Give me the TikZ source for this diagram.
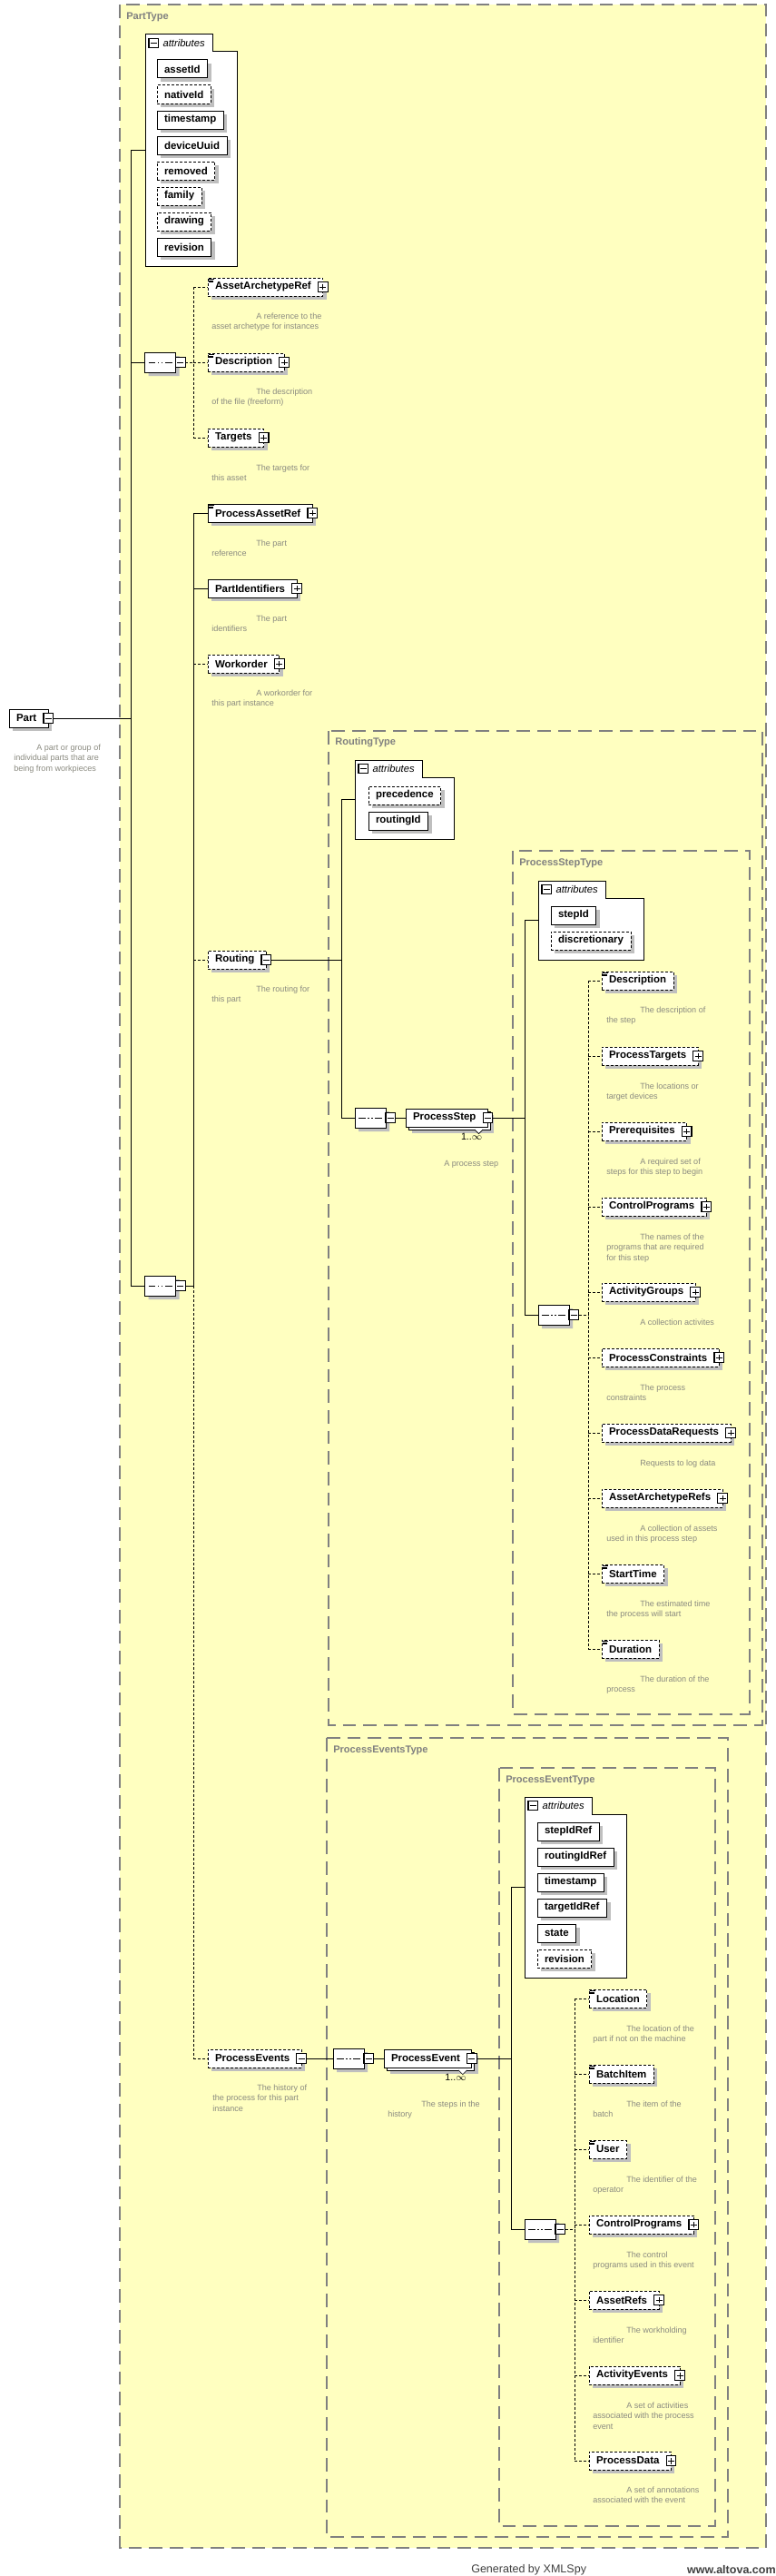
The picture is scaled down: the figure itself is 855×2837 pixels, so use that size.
\documentclass[tikz,border=0pt]{standalone}
\usepackage{fontspec}
\setmainfont{Liberation Sans}
\usetikzlibrary{shapes.misc,shadows}

\definecolor{xsyellow}{RGB}{255,255,192}
\definecolor{xsgray}{RGB}{128,128,128}
\definecolor{xsdesc}{RGB}{138,138,128}

\begin{document}
\begin{tikzpicture}[x=0.75pt,y=-0.75pt,
    link/.style={line width=0.75pt},
    optlink/.style={line width=0.75pt,dash pattern=on 2.25pt off 1.5pt},
    typebox/.style={draw=xsgray,line width=0.9pt,dash pattern=on 11pt off 6pt},
    typelabel/.style={anchor=west,inner sep=0pt,text=xsgray,font=\bfseries\fontsize{8.3}{10}\selectfont},
    elbase/.style={draw,fill=white,line width=0.75pt,anchor=west,minimum height=15pt,
      inner xsep=6pt,inner ysep=0pt,outer sep=0pt,font=\bfseries\fontsize{8.6}{10}\selectfont},
    elem/.style={elbase,general shadow={fill=black!25,shadow xshift=3pt,shadow yshift=-3pt}},
    optel/.style={elem,dash pattern=on 2.25pt off 1.5pt},
    stackel/.style={elbase,general shadow={fill=black!25,shadow xshift=5.25pt,shadow yshift=-5.25pt},
      copy shadow={shadow xshift=2.25pt,shadow yshift=-2.25pt}},
    kids/.style={execute at end node=\hspace{3.75pt}},
    docel/.style={path picture={
      \draw[solid,line width=0.5pt]
        ([xshift=0.5pt,yshift=-1.1pt]path picture bounding box.north west) -- ++(4.5pt,0pt)
        ([xshift=0.5pt,yshift=-2.2pt]path picture bounding box.north west) -- ++(3.8pt,0pt)
        ([xshift=0.5pt,yshift=-3.3pt]path picture bounding box.north west) -- ++(3.8pt,0pt);}},
    pbox/.style={draw,solid,fill=white,line width=0.9pt,minimum size=8pt,inner sep=0pt,outer sep=0pt,
      path picture={\draw[solid,line width=0.6pt]
        ([xshift=1.4pt]path picture bounding box.west) -- ([xshift=-1.4pt]path picture bounding box.east)
        ([yshift=-1.4pt]path picture bounding box.north) -- ([yshift=1.4pt]path picture bounding box.south);}},
    mbox/.style={draw,solid,fill=white,line width=0.9pt,minimum size=8pt,inner sep=0pt,outer sep=0pt,
      path picture={\draw[solid,line width=0.6pt]
        ([xshift=1.4pt]path picture bounding box.west) -- ([xshift=-1.4pt]path picture bounding box.east);}},
    seq/.style={chamfered rectangle,chamfered rectangle sep=4pt,draw,fill=white,line width=0.75pt,
      minimum width=25.5pt,minimum height=16.5pt,inner sep=0pt,outer sep=0pt,
      general shadow={fill=black!25,shadow xshift=3pt,shadow yshift=-3pt},
      path picture={
        \draw[solid,line width=0.75pt] ([xshift=3pt]path picture bounding box.west) -- ([xshift=-3pt]path picture bounding box.east);
        \foreach \d in {-3pt,0pt,3pt}
          \fill ([xshift=\d]path picture bounding box.center) ++(-1pt,-1pt) rectangle ++(2pt,2pt);}},
    attgrp/.style={anchor=north west,inner sep=0pt,outer sep=0pt},
    atttab/.style={anchor=north west,inner sep=0pt,outer sep=0pt,minimum width=55.5pt,minimum height=14.25pt},
    attline/.style={draw,fill=white,line width=0.75pt},
    attlabel/.style={anchor=west,inner sep=0pt,font=\itshape\fontsize{8.4}{10}\selectfont},
    desc/.style={anchor=north west,align=left,inner sep=0pt,text=xsdesc,font=\fontsize{6.8}{8.5}\selectfont},
    mult/.style={anchor=north east,inner sep=0pt,font=\fontsize{8}{10}\selectfont},
    foot/.style={inner sep=0pt,text=black!75,font=\fontsize{9.4}{11}\selectfont}]

  \useasboundingbox (0,0) rectangle (855,2837);

  % type boxes
  \fill[xsyellow] (132,5) rectangle (844,2806);
  \draw[typebox] (132,5) rectangle (844,2806);
  \draw[typebox] (362,805) rectangle (840,1900);
  \draw[typebox] (565,937) rectangle (826,1888);
  \draw[typebox] (360,1914) rectangle (802,2794);
  \draw[typebox] (550,1947) rectangle (788,2782);
  \node[typelabel] (tpart) at (139,19) {PartType};
  \node[typelabel] (trout) at (369,818) {RoutingType};
  \node[typelabel] (tstep) at (572,951) {ProcessStepType};
  \node[typelabel] (tevs) at (367,1928) {ProcessEventsType};
  \node[typelabel] (tev) at (557,1961) {ProcessEventType};

  % Part
  \node[elem,kids] (part) at (10,791) {Part};
  \node[mbox] (part-m) at (part.east) {};
  \node[desc] (part-d) at (15,819.5) {\hspace*{18.75pt}A part or group of\\individual parts that are\\being from workpieces};

  % PartType attributes
  \node[attgrp,minimum width=75.75pt,minimum height=191.25pt] (pa) at (160,38) {};
  \node[atttab] (pat) at (pa.north west) {};
  \draw[attline] (pa.north west) -- (pat.north east) -- (pat.south east) -- (pat.south east -| pa.east)
    -- (pa.south east) -- (pa.south west) -- cycle;
  \node[mbox,anchor=west] (pat-m) at ([xshift=3pt]pat.west) {};
  \node[attlabel] (pat-t) at ([xshift=14.5pt]pat.west) {attributes};
  \node[elem] (a1) at (173,76) {assetId};
  \node[optel] (a2) at (173,104) {nativeId};
  \node[elem] (a3) at (173,132) {timestamp};
  \node[elem] (a4) at (173,160) {deviceUuid};
  \node[optel] (a5) at (173,188) {removed};
  \node[optel] (a6) at (173,216) {family};
  \node[optel] (a7) at (173,244) {drawing};
  \node[elem] (a8) at (173,272) {revision};

  % first sequence
  \node[seq] (s1) at (176.5,399) {};
  \node[mbox,anchor=west] (s1-m) at (s1.east) {};
  \node[optel,kids,docel] (aar) at (229,316) {AssetArchetypeRef};
  \node[pbox] (aar-p) at (aar.east) {};
  \node[desc] (aar-d) at (233,344.5) {\hspace*{36.75pt}A reference to the\\asset archetype for instances};
  \node[optel,kids,docel] (dsc) at (229,399) {Description};
  \node[pbox] (dsc-p) at (dsc.east) {};
  \node[desc] (dsc-d) at (233,427.5) {\hspace*{36.75pt}The description\\of the file (freeform)};
  \node[optel,kids] (tgts) at (229,482) {Targets};
  \node[pbox] (tgts-p) at (tgts.east) {};
  \node[desc] (tgts-d) at (233,511.5) {\hspace*{36.75pt}The targets for\\this asset};

  % second sequence
  \node[seq] (s2) at (176.5,1416) {};
  \node[mbox,anchor=west] (s2-m) at (s2.east) {};
  \node[elem,kids,docel] (par) at (229,565) {ProcessAssetRef};
  \node[pbox] (par-p) at (par.east) {};
  \node[desc] (par-d) at (233,594.5) {\hspace*{36.75pt}The part\\reference};
  \node[elem,kids] (pid) at (229,648) {PartIdentifiers};
  \node[pbox] (pid-p) at (pid.east) {};
  \node[desc] (pid-d) at (233,677.5) {\hspace*{36.75pt}The part\\identifiers};
  \node[optel,kids] (wo) at (229,731) {Workorder};
  \node[pbox] (wo-p) at (wo.east) {};
  \node[desc] (wo-d) at (233,759.5) {\hspace*{36.75pt}A workorder for\\this part instance};
  \node[optel,kids] (rt) at (229,1057) {Routing};
  \node[mbox] (rt-m) at (rt.east) {};
  \node[desc] (rt-d) at (233,1085.5) {\hspace*{36.75pt}The routing for\\this part};
  \node[optel,kids] (pevs) at (229,2267) {ProcessEvents};
  \node[mbox] (pevs-m) at (pevs.east) {};
  \node[desc] (pevs-d) at (234,2295.5) {\hspace*{36.75pt}The history of\\the process for this part\\instance};

  % RoutingType
  \node[attgrp,minimum width=81.75pt,minimum height=65.25pt] (ra) at (391,837) {};
  \node[atttab] (rat) at (ra.north west) {};
  \draw[attline] (ra.north west) -- (rat.north east) -- (rat.south east) -- (rat.south east -| ra.east)
    -- (ra.south east) -- (ra.south west) -- cycle;
  \node[mbox,anchor=west] (rat-m) at ([xshift=3pt]rat.west) {};
  \node[attlabel] (rat-t) at ([xshift=14.5pt]rat.west) {attributes};
  \node[optel] (r1) at (406,876) {precedence};
  \node[elem] (r2) at (406,904) {routingId};
  \node[seq] (s3) at (408,1231) {};
  \node[mbox,anchor=west] (s3-m) at (s3.east) {};
  \node[stackel,kids] (ps) at (447,1231) {ProcessStep};
  \node[mbox] (ps-m) at (ps.east) {};
  \filldraw[fill=white,line width=0.5pt] ([xshift=-11pt,yshift=-2.2pt]ps.south east) -- ++(3.5pt,-3.5pt) -- ++(3.5pt,3.5pt);
  \node[mult] (ps-n) at ([xshift=-4.5pt,yshift=-5pt]ps.south east) {1..$\infty$};
  \node[desc] (ps-d) at (451,1277.5) {\hspace*{28.5pt}A process step};

  % ProcessStepType
  \node[attgrp,minimum width=87pt,minimum height=65.25pt] (sa) at (593,970) {};
  \node[atttab] (sat) at (sa.north west) {};
  \draw[attline] (sa.north west) -- (sat.north east) -- (sat.south east) -- (sat.south east -| sa.east)
    -- (sa.south east) -- (sa.south west) -- cycle;
  \node[mbox,anchor=west] (sat-m) at ([xshift=3pt]sat.west) {};
  \node[attlabel] (sat-t) at ([xshift=14.5pt]sat.west) {attributes};
  \node[elem] (t1) at (607,1008) {stepId};
  \node[optel] (t2) at (607,1036) {discretionary};
  \node[seq] (s4) at (610,1448) {};
  \node[mbox,anchor=west] (s4-m) at (s4.east) {};
  \node[optel,docel] (sdsc) at (663,1080) {Description};
  \node[desc] (sdsc-d) at (668,1108.5) {\hspace*{27.75pt}The description of\\the step};
  \node[optel,kids] (ptg) at (663,1163) {ProcessTargets};
  \node[pbox] (ptg-p) at (ptg.east) {};
  \node[desc] (ptg-d) at (668,1192.5) {\hspace*{27.75pt}The locations or\\target devices};
  \node[optel,kids] (preq) at (663,1246) {Prerequisites};
  \node[pbox] (preq-p) at (preq.east) {};
  \node[desc] (preq-d) at (668,1275.5) {\hspace*{27.75pt}A required set of\\steps for this step to begin};
  \node[optel,kids] (scp) at (663,1329) {ControlPrograms};
  \node[pbox] (scp-p) at (scp.east) {};
  \node[desc] (scp-d) at (668,1358.5) {\hspace*{27.75pt}The names of the\\programs that are required\\for this step};
  \node[optel,kids] (agrp) at (663,1423) {ActivityGroups};
  \node[pbox] (agrp-p) at (agrp.east) {};
  \node[desc] (agrp-d) at (668,1452.5) {\hspace*{27.75pt}A collection activites};
  \node[optel,kids] (pcon) at (663,1495) {ProcessConstraints};
  \node[pbox] (pcon-p) at (pcon.east) {};
  \node[desc] (pcon-d) at (668,1524.5) {\hspace*{27.75pt}The process\\constraints};
  \node[optel,kids] (pdr) at (663,1578) {ProcessDataRequests};
  \node[pbox] (pdr-p) at (pdr.east) {};
  \node[desc] (pdr-d) at (668,1607.5) {\hspace*{27.75pt}Requests to log data};
  \node[optel,kids] (aars) at (663,1650) {AssetArchetypeRefs};
  \node[pbox] (aars-p) at (aars.east) {};
  \node[desc] (aars-d) at (668,1679.5) {\hspace*{27.75pt}A collection of assets\\used in this process step};
  \node[optel,docel] (stt) at (663,1733) {StartTime};
  \node[desc] (stt-d) at (668,1762.5) {\hspace*{27.75pt}The estimated time\\the process will start};
  \node[optel,docel] (dur) at (663,1816) {Duration};
  \node[desc] (dur-d) at (668,1845.5) {\hspace*{27.75pt}The duration of the\\process};

  % ProcessEventsType
  \node[seq] (s5) at (384,2267) {};
  \node[mbox,anchor=west] (s5-m) at (s5.east) {};
  \node[stackel,kids] (ev) at (423,2267) {ProcessEvent};
  \node[mbox] (ev-m) at (ev.east) {};
  \filldraw[fill=white,line width=0.5pt] ([xshift=-11pt,yshift=-2.2pt]ev.south east) -- ++(3.5pt,-3.5pt) -- ++(3.5pt,3.5pt);
  \node[mult] (ev-n) at ([xshift=-4.5pt,yshift=-5pt]ev.south east) {1..$\infty$};
  \node[desc] (ev-d) at (427,2313.5) {\hspace*{27.75pt}The steps in the\\history};

  % ProcessEventType
  \node[attgrp,minimum width=84pt,minimum height=149.25pt] (ea) at (578,1979) {};
  \node[atttab] (eat) at (ea.north west) {};
  \draw[attline] (ea.north west) -- (eat.north east) -- (eat.south east) -- (eat.south east -| ea.east)
    -- (ea.south east) -- (ea.south west) -- cycle;
  \node[mbox,anchor=west] (eat-m) at ([xshift=3pt]eat.west) {};
  \node[attlabel] (eat-t) at ([xshift=14.5pt]eat.west) {attributes};
  \node[elem] (e1) at (592,2017) {stepIdRef};
  \node[elem] (e2) at (592,2045) {routingIdRef};
  \node[elem] (e3) at (592,2073) {timestamp};
  \node[elem] (e4) at (592,2101) {targetIdRef};
  \node[elem] (e5) at (592,2129) {state};
  \node[optel] (e6) at (592,2157) {revision};
  \node[seq] (s6) at (595,2455) {};
  \node[mbox,anchor=west] (s6-m) at (s6.east) {};
  \node[optel,docel] (loc) at (649,2201) {Location};
  \node[desc] (loc-d) at (653,2230.5) {\hspace*{27.75pt}The location of the\\part if not on the machine};
  \node[optel,docel] (bat) at (649,2284) {BatchItem};
  \node[desc] (bat-d) at (653,2313.5) {\hspace*{27.75pt}The item of the\\batch};
  \node[optel,docel] (usr) at (649,2367) {User};
  \node[desc] (usr-d) at (653,2396.5) {\hspace*{27.75pt}The identifier of the\\operator};
  \node[optel,kids] (ecp) at (649,2450) {ControlPrograms};
  \node[pbox] (ecp-p) at (ecp.east) {};
  \node[desc] (ecp-d) at (653,2479.5) {\hspace*{27.75pt}The control\\programs used in this event};
  \node[optel,kids] (arf) at (649,2533) {AssetRefs};
  \node[pbox] (arf-p) at (arf.east) {};
  \node[desc] (arf-d) at (653,2562.5) {\hspace*{27.75pt}The workholding\\identifier};
  \node[optel,kids] (aev) at (649,2616) {ActivityEvents};
  \node[pbox] (aev-p) at (aev.east) {};
  \node[desc] (aev-d) at (653,2645.5) {\hspace*{27.75pt}A set of activities\\associated with the process\\event};
  \node[optel,kids] (pdat) at (649,2710) {ProcessData};
  \node[pbox] (pdat-p) at (pdat.east) {};
  \node[desc] (pdat-d) at (653,2738.5) {\hspace*{27.75pt}A set of annotations\\associated with the event};

  % connectors
  \coordinate (b0) at (144,791);
  \draw[link] (part-m.east) -- (b0);
  \draw[link] (pa.west) -- (b0 |- pa.west) -- (b0 |- s2.west) -- (s2.west);
  \draw[link] (b0 |- s1.west) -- (s1.west);

  \coordinate (b1) at (213,399);
  \draw[optlink] (s1-m.east) -- (b1);
  \draw[optlink] (b1 |- aar) -- (b1 |- tgts);
  \draw[optlink] (b1 |- aar) -- (aar.west);
  \draw[optlink] (b1 |- dsc) -- (dsc.west);
  \draw[optlink] (b1 |- tgts) -- (tgts.west);

  \coordinate (b2) at (213,1416);
  \draw[link] (s2-m.east) -- (b2);
  \draw[link] (b2 |- par) -- (b2);
  \draw[optlink] (b2) -- (b2 |- pevs);
  \draw[link] (b2 |- par) -- (par.west);
  \draw[link] (b2 |- pid) -- (pid.west);
  \draw[optlink] (b2 |- wo) -- (wo.west);
  \draw[optlink] (b2 |- rt) -- (rt.west);
  \draw[optlink] (b2 |- pevs) -- (pevs.west);

  \coordinate (b3) at (376,1057);
  \draw[link] (rt-m.east) -- (b3);
  \draw[link] (ra.west) -- (b3 |- ra.west) -- (b3 |- s3.west) -- (s3.west);
  \draw[link] (s3-m.east) -- (ps.west);

  \coordinate (b4) at (578,1231);
  \draw[link] (ps-m.east) -- (b4);
  \draw[link] (sa.west) -- (b4 |- sa.west) -- (b4 |- s4.west) -- (s4.west);

  \coordinate (b5) at (648,1448);
  \draw[optlink] (s4-m.east) -- (b5);
  \draw[optlink] (b5 |- sdsc) -- (b5 |- dur);
  \draw[optlink] (b5 |- sdsc) -- (sdsc.west);
  \draw[optlink] (b5 |- ptg) -- (ptg.west);
  \draw[optlink] (b5 |- preq) -- (preq.west);
  \draw[optlink] (b5 |- scp) -- (scp.west);
  \draw[optlink] (b5 |- agrp) -- (agrp.west);
  \draw[optlink] (b5 |- pcon) -- (pcon.west);
  \draw[optlink] (b5 |- pdr) -- (pdr.west);
  \draw[optlink] (b5 |- aars) -- (aars.west);
  \draw[optlink] (b5 |- stt) -- (stt.west);
  \draw[optlink] (b5 |- dur) -- (dur.west);

  \draw[link] (pevs-m.east) -- (s5.west);
  \draw[link] (s5-m.east) -- (ev.west);

  \coordinate (b6) at (563,2267);
  \draw[link] (ev-m.east) -- (b6);
  \draw[link] (ea.west) -- (b6 |- ea.west) -- (b6 |- s6.west) -- (s6.west);

  \coordinate (b7) at (633,2455);
  \draw[optlink] (s6-m.east) -- (b7);
  \draw[optlink] (b7 |- loc) -- (b7 |- pdat);
  \draw[optlink] (b7 |- loc) -- (loc.west);
  \draw[optlink] (b7 |- bat) -- (bat.west);
  \draw[optlink] (b7 |- usr) -- (usr.west);
  \draw[optlink] (b7 |- ecp) -- (ecp.west);
  \draw[optlink] (b7 |- arf) -- (arf.west);
  \draw[optlink] (b7 |- aev) -- (aev.west);
  \draw[optlink] (b7 |- pdat) -- (pdat.west);

  % footer
  \node[foot,anchor=west] (gen) at (519,2830) {Generated by XMLSpy};
  \node[foot,anchor=east,font=\bfseries\fontsize{9.4}{11}\selectfont] (web) at (855,2830) {www.altova.com};
\end{tikzpicture}
\end{document}
